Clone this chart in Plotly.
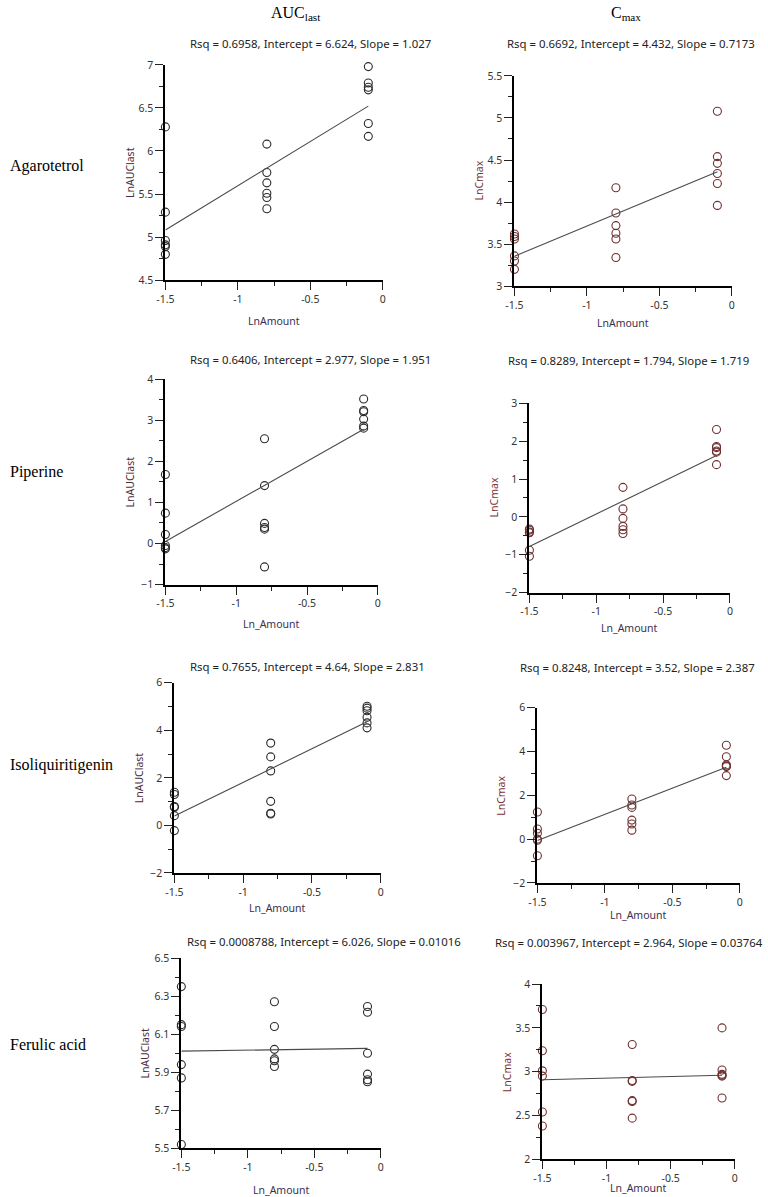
import plotly.graph_objects as go

W, H = 768, 1197

# ---- data ----
compounds = ["Agarotetrol", "Piperine", "Isoliquiritigenin", "Ferulic acid"]
ln_amount = [-1.5, -1.5, -1.5, -1.5, -1.5, -1.5,
             -0.8, -0.8, -0.8, -0.8, -0.8, -0.8,
             -0.1, -0.1, -0.1, -0.1, -0.1, -0.1]

agar_auc = [6.28, 5.29, 4.96, 4.91, 4.89, 4.80,
            6.08, 5.75, 5.63, 5.51, 5.46, 5.33,
            6.98, 6.79, 6.74, 6.71, 6.32, 6.17]
agar_cmax = [3.62, 3.59, 3.56, 3.36, 3.30, 3.20,
             4.17, 3.87, 3.72, 3.63, 3.56, 3.34,
             5.08, 4.54, 4.46, 4.34, 4.22, 3.96]
pip_auc = [1.68, 0.74, 0.22, -0.05, -0.10, -0.13,
           2.55, 1.41, 0.49, 0.39, 0.35, -0.57,
           3.52, 3.24, 3.21, 3.03, 2.86, 2.81]
pip_cmax = [-0.32, -0.35, -0.40, -0.42, -0.88, -1.04,
            0.78, 0.21, -0.04, -0.25, -0.34, -0.44,
            2.31, 1.86, 1.83, 1.74, 1.71, 1.38]
iso_auc = [1.39, 1.30, 0.79, 0.76, 0.41, -0.22,
           3.46, 2.88, 2.29, 1.01, 0.51, 0.48,
           5.01, 4.93, 4.82, 4.55, 4.31, 4.10]
iso_cmax = [1.24, 0.46, 0.27, 0.00, -0.05, -0.76,
            1.83, 1.56, 1.45, 0.87, 0.69, 0.41,
            4.29, 3.76, 3.39, 3.34, 3.31, 2.90]
fer_auc = [6.35, 6.15, 6.14, 5.94, 5.87, 5.52,
           6.27, 6.14, 6.02, 5.97, 5.96, 5.93,
           6.245, 6.215, 6.00, 5.89, 5.86, 5.85]
fer_cmax = [3.71, 3.24, 3.01, 2.95, 2.54, 2.38,
            3.31, 2.90, 2.89, 2.67, 2.66, 2.47,
            3.50, 3.02, 2.97, 2.96, 2.95, 2.70]

# panel order: row by row, AUC then Cmax
panel_y = [agar_auc, agar_cmax, pip_auc, pip_cmax, iso_auc, iso_cmax, fer_auc, fer_cmax]
rsq = ["0.6958", "0.6692", "0.6406", "0.8289", "0.7655", "0.8248", "0.0008788", "0.003967"]
intercept = ["6.624", "4.432", "2.977", "1.794", "4.64", "3.52", "6.026", "2.964"]
slope = ["1.027", "0.7173", "1.951", "1.719", "2.831", "2.387", "0.01016", "0.03764"]
y_titles = ["LnAUClast", "LnCmax"] * 4
x_titles = ["LnAmount", "LnAmount", "Ln_Amount", "Ln_Amount",
            "Ln_Amount", "Ln_Amount", "Ln_Amount", "Ln_Amount"]
y_ranges = [[4.5, 7], [3, 5.5], [-1, 4], [-2, 3], [-2, 6], [-2, 6], [5.5, 6.5], [2, 4]]
y_dtick = [0.5, 0.5, 1, 1, 2, 2, 0.2, 0.5]
y_minor = [0.25, 0.25, 0.5, 0.5, 1, 1, 0.1, 0.25]
x_tickvals = [-1.5, -1, -0.5, 0]
x_ticktext = ["-1.5", "-1", "-0.5", "0"]
fit_x = [-1.5, -0.1]

# ---- layout geometry in screen pixels: x0, x1, ytop, ybottom, title anchor x, title y, xtitle offset ----
boxes = [
    (164, 382, 65, 280, 188, 44, 41),
    (514, 732, 76, 286, 756, 44, 37),
    (164, 377, 379, 584, 188, 359, 39),
    (529, 730, 403, 592, 750, 360, 35),
    (173, 380, 682, 872, 188, 666, 35),
    (537, 740, 707, 882, 756, 667, 32),
    (180, 380, 957, 1147, 185, 940, 42),
    (542, 735, 983, 1158, 764, 941, 29),
]
row_label_y = [166, 472, 764, 1043]

# the photographed page comes out slightly shrunk and offset; undo that
SHOT_SCALE = 0.987
SHOT_OFF = 7.2


def px(x):
    return min(max((x - SHOT_OFF) / SHOT_SCALE, 0), W) / W


def py(y):
    return 1 - min(max((y - SHOT_OFF) / SHOT_SCALE, 0), H) / H


fig = go.Figure()
annotations = []
tick_font = dict(family="Noto Sans", size=10.5, color="#333333")

for i in range(8):
    n = i + 1
    x0, x1, yt, yb, tx, ty, xoff = boxes[i]
    is_cmax = i % 2 == 1
    mcol = "#6e2f2f" if is_cmax else "#2a2a2a"

    fig.add_trace(go.Scatter(
        x=ln_amount, y=panel_y[i], mode="markers",
        marker=dict(symbol="circle-open", size=8, color=mcol, line=dict(width=1.1, color=mcol)),
        cliponaxis=False, showlegend=False,
        xaxis="x%d" % n, yaxis="y%d" % n,
    ))
    b0 = float(intercept[i])
    b1 = float(slope[i])
    fig.add_trace(go.Scatter(
        x=fit_x, y=[b0 + b1 * v for v in fit_x], mode="lines",
        line=dict(color="#4a4a4a", width=1.1),
        cliponaxis=False, showlegend=False,
        xaxis="x%d" % n, yaxis="y%d" % n,
    ))

    common = dict(showgrid=False, zeroline=False, showline=True, linecolor="black",
                  linewidth=2, ticks="outside", ticklen=8, tickwidth=1, tickcolor="#222222",
                  tickfont=tick_font)
    fig.update_layout(**{
        "xaxis%d" % n: dict(domain=[px(x0), px(x1)], anchor="y%d" % n, range=[-1.5, 0],
                            tickmode="array", tickvals=x_tickvals, ticktext=x_ticktext,
                            minor=dict(ticks="outside", ticklen=4, dtick=0.25, tick0=-1.5,
                                       tickcolor="#222222"),
                            **common),
        "yaxis%d" % n: dict(domain=[py(yb), py(yt)], anchor="x%d" % n, range=y_ranges[i],
                            tickmode="linear", tick0=y_ranges[i][0], dtick=y_dtick[i],
                            minor=dict(ticks="outside", ticklen=4, dtick=y_minor[i],
                                       tick0=y_ranges[i][0], tickcolor="#222222"),
                            **common),
    })

    annotations.append(dict(
        text="Rsq = %s, Intercept = %s, Slope = %s" % (rsq[i], intercept[i], slope[i]),
        x=px(tx), y=py(ty), xref="paper", yref="paper", showarrow=False,
        xanchor="right" if is_cmax else "left", yanchor="middle", borderpad=0,
        font=dict(family="Noto Sans", size=11.4, color="#222222"),
    ))
    annotations.append(dict(
        text=y_titles[i], x=px(x0 - 36), y=py((yt + yb) / 2), xref="paper", yref="paper",
        showarrow=False, textangle=-90, xanchor="center", yanchor="middle",
        font=dict(family="Noto Sans", size=10.5, color="#7a3434" if is_cmax else "#4a2e3a"),
    ))
    annotations.append(dict(
        text=x_titles[i], x=px((x0 + x1) / 2), y=py(yb + xoff), xref="paper", yref="paper",
        showarrow=False, xanchor="center", yanchor="middle",
        font=dict(family="Noto Sans", size=10.5, color="#3a3050"),
    ))

# column headers
annotations.append(dict(text="AUC<sub>last</sub>", x=px(295), y=py(14), xref="paper", yref="paper",
                        showarrow=False, xanchor="center", yanchor="middle",
                        font=dict(family="Liberation Serif", size=16, color="black")))
annotations.append(dict(text="C<sub>max</sub>", x=px(626), y=py(14), xref="paper", yref="paper",
                        showarrow=False, xanchor="center", yanchor="middle",
                        font=dict(family="Liberation Serif", size=16, color="black")))

# row labels
for name, yy in zip(compounds, row_label_y):
    annotations.append(dict(text=name, x=px(3), y=py(yy), xref="paper", yref="paper",
                            showarrow=False, xanchor="left", yanchor="middle", borderpad=0,
                            font=dict(family="Liberation Serif", size=16, color="black")))

fig.update_layout(
    width=W, height=H,
    margin=dict(l=0, r=0, t=0, b=0),
    plot_bgcolor="white", paper_bgcolor="white",
    annotations=annotations,
)

# the page's default body margin shifts the figure; drop it
fig.write_html("out.html", config={"displayModeBar": False},
               post_script="document.body.style.margin='0';")
